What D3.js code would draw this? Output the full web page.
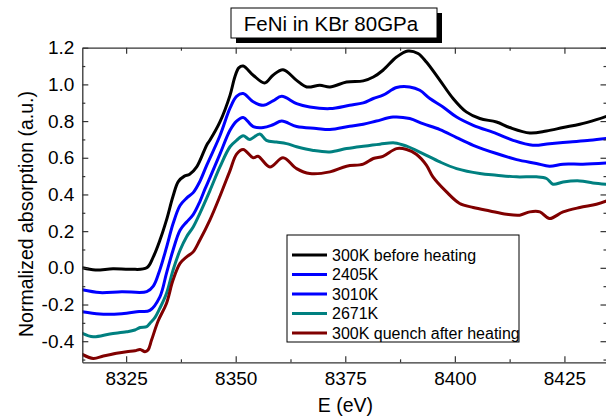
<!DOCTYPE html>
<html>
<head>
<meta charset="utf-8">
<script src="https://cdn.jsdelivr.net/npm/d3@7"></script>
<style>
  html, body { margin: 0; padding: 0; background: #fff; }
  svg { display: block; font-family: "Liberation Sans", Arial, sans-serif; }
</style>
</head>
<body>
<svg id="chart" width="606" height="419"></svg>
<script>
// ---------------- data ----------------
const titleText = "FeNi in KBr 80GPa";
const xLabel = "E (eV)";
const yLabel = "Normalized absorption (a.u.)";

const seriesNames = ["300K before heating", "2405K", "3010K", "2671K", "300K quench after heating"];
const seriesColors = ["#000000", "#0000ff", "#0000ff", "#008080", "#800000"];

const xTicks = [8325, 8350, 8375, 8400, 8425];
const xMinorTicks = [8337.5, 8362.5, 8387.5, 8412.5];
const yTicks = [-0.4, -0.2, 0.0, 0.2, 0.4, 0.6, 0.8, 1.0, 1.2];
const yTickLabels = ["-0.4", "-0.2", "0.0", "0.2", "0.4", "0.6", "0.8", "1.0", "1.2"];
const yMinorTicks = [-0.5, -0.3, -0.1, 0.1, 0.3, 0.5, 0.7, 0.9, 1.1];

// 300K before heating
const eBlack = [8315, 8318, 8322, 8326, 8329.7, 8331.2, 8332.7, 8334.2, 8335.7, 8336.9, 8338.3, 8339.5, 8341.1, 8343.4, 8344.1, 8346.4, 8348.7, 8349.8, 8350.7, 8351.7, 8354, 8356.6, 8358.5, 8360.8, 8363.9, 8366.2, 8369.2, 8371.5, 8375.3, 8379.1, 8381.4, 8383.6, 8386.7, 8389.3, 8391.6, 8393.5, 8396.6, 8399.6, 8402.6, 8405.7, 8409.5, 8412.5, 8417.1, 8420.9, 8424.7, 8428.5, 8432.3, 8434.6];
const vBlack = [0.0, -0.012, -0.005, -0.008, 0.0, 0.06, 0.15, 0.26, 0.39, 0.47, 0.50, 0.51, 0.55, 0.67, 0.695, 0.795, 0.94, 1.04, 1.09, 1.10, 1.05, 1.008, 1.05, 1.08, 1.022, 0.986, 0.995, 0.986, 1.013, 1.019, 1.04, 1.077, 1.149, 1.182, 1.168, 1.122, 1.022, 0.923, 0.85, 0.814, 0.795, 0.765, 0.735, 0.746, 0.765, 0.783, 0.808, 0.826];

// 2405K
const eBlue1 = [8315, 8319, 8324, 8329.7, 8331.2, 8332.7, 8334.2, 8335.7, 8337.3, 8338.8, 8340.3, 8341.8, 8343.4, 8346.4, 8348.7, 8350.2, 8351.7, 8354, 8356.3, 8358.5, 8360.5, 8363.9, 8366.9, 8371.5, 8376, 8379.1, 8381.4, 8383.6, 8386.7, 8389.7, 8392, 8394.3, 8397.3, 8400.4, 8404.2, 8409.5, 8413.3, 8417.8, 8421.6, 8426.2, 8430.8, 8434.6];
const vBlue1 = [-0.12, -0.135, -0.13, -0.13, -0.10, -0.01, 0.11, 0.24, 0.34, 0.38, 0.41, 0.47, 0.56, 0.72, 0.87, 0.935, 0.95, 0.905, 0.886, 0.91, 0.935, 0.895, 0.877, 0.868, 0.886, 0.899, 0.923, 0.941, 0.983, 0.986, 0.968, 0.923, 0.877, 0.822, 0.777, 0.732, 0.695, 0.668, 0.677, 0.686, 0.695, 0.705];

// 3010K
const eBlue2 = [8315, 8319, 8324, 8328, 8330.4, 8332.7, 8334.2, 8335.7, 8337.3, 8338.8, 8340.3, 8341.8, 8343, 8344.1, 8346.4, 8348.7, 8350.2, 8351.7, 8354, 8356.3, 8358.5, 8360.5, 8363.9, 8368.4, 8371.5, 8376, 8379.1, 8382.1, 8385.9, 8389.7, 8392.7, 8396.6, 8400.4, 8404.2, 8409.5, 8414.1, 8418.6, 8421.6, 8424.7, 8429.2, 8434.6];
const vBlue2 = [-0.24, -0.252, -0.25, -0.238, -0.232, -0.158, -0.03, 0.096, 0.205, 0.25, 0.29, 0.36, 0.43, 0.49, 0.62, 0.75, 0.80, 0.82, 0.77, 0.765, 0.78, 0.80, 0.77, 0.76, 0.754, 0.772, 0.783, 0.80, 0.822, 0.814, 0.786, 0.754, 0.71, 0.668, 0.623, 0.59, 0.569, 0.554, 0.565, 0.565, 0.572];

// 2671K
const eTeal = [8315, 8317.5, 8321.3, 8325.1, 8327, 8328.2, 8329.7, 8330.4, 8331.6, 8332.7, 8334.2, 8335.7, 8337.3, 8338.8, 8340.3, 8341.8, 8344.1, 8346.4, 8348.7, 8350.2, 8351.7, 8353.2, 8355.5, 8357, 8359.3, 8361.6, 8363.9, 8367.7, 8371.5, 8375.3, 8379.1, 8382.9, 8386.3, 8389, 8392.7, 8396.6, 8400.4, 8405.7, 8409.5, 8414.1, 8418.6, 8420.9, 8422.4, 8424.7, 8428.5, 8431.5, 8434.6];
const vTeal = [-0.357, -0.376, -0.361, -0.349, -0.339, -0.325, -0.321, -0.303, -0.27, -0.22, -0.14, -0.013, 0.096, 0.17, 0.223, 0.296, 0.42, 0.55, 0.66, 0.695, 0.72, 0.70, 0.73, 0.695, 0.686, 0.677, 0.66, 0.64, 0.632, 0.65, 0.663, 0.674, 0.681, 0.663, 0.623, 0.577, 0.541, 0.514, 0.505, 0.496, 0.496, 0.487, 0.456, 0.468, 0.474, 0.463, 0.456];

// 300K quench after heating
const eRed = [8315, 8317.5, 8319.8, 8322.8, 8325.1, 8327, 8328.2, 8329.3, 8330, 8330.8, 8332.3, 8334.2, 8335.7, 8337.3, 8338.8, 8340.3, 8341.8, 8344.1, 8346.4, 8348.7, 8350.2, 8351.7, 8354, 8355.1, 8357.8, 8360.8, 8363.9, 8366.9, 8371.5, 8375.3, 8379.1, 8381.4, 8383.6, 8386.7, 8389, 8391.2, 8393.5, 8395, 8398.1, 8401.1, 8404.2, 8408, 8411.8, 8414.8, 8417.1, 8419.4, 8421.6, 8424.7, 8428.5, 8432.3, 8434.6];
const vRed = [-0.472, -0.494, -0.481, -0.466, -0.457, -0.452, -0.445, -0.457, -0.448, -0.394, -0.29, -0.194, -0.067, 0.024, 0.06, 0.087, 0.15, 0.26, 0.39, 0.53, 0.62, 0.645, 0.60, 0.608, 0.55, 0.60, 0.541, 0.514, 0.523, 0.554, 0.565, 0.596, 0.608, 0.65, 0.645, 0.619, 0.56, 0.496, 0.414, 0.351, 0.329, 0.31, 0.292, 0.287, 0.305, 0.305, 0.269, 0.305, 0.329, 0.347, 0.365];

const seriesE = [eBlack, eBlue1, eBlue2, eTeal, eRed];
const seriesV = [vBlack, vBlue1, vBlue2, vTeal, vRed];

// ---------------- layout ----------------
const svg = d3.select("#chart");
const plot = { left: 82.3, right: 606.5, top: 47.7, bottom: 362.3 };
const fontTick = 19;

const x = d3.scaleLinear().domain([8315, 8434.6]).range([plot.left, plot.right]);
const y = d3.scaleLinear().domain([-0.515, 1.2]).range([plot.bottom, plot.top]);

// clip
svg.append("defs").append("clipPath").attr("id", "clip")
  .append("rect").attr("x", plot.left).attr("y", plot.top)
  .attr("width", plot.right - plot.left).attr("height", plot.bottom - plot.top);

// curves
const line = d3.line()
  .x(d => x(d[0])).y(d => y(d[1]))
  .curve(d3.curveCatmullRom.alpha(0.5));

const curves = svg.append("g").attr("clip-path", "url(#clip)");
seriesE.forEach((es, i) => {
  const pts = es.map((e, k) => [e, seriesV[i][k]]);
  curves.append("path")
    .datum(pts)
    .attr("d", line)
    .attr("fill", "none")
    .attr("stroke", seriesColors[i])
    .attr("stroke-width", 3)
    .attr("stroke-linejoin", "round")
    .attr("stroke-linecap", "round");
});

// axes
const axisColor = "#333";
function styleAxis(g) {
  g.selectAll("path.domain").attr("stroke", axisColor).attr("stroke-width", 1.3);
  g.selectAll(".tick line").attr("stroke", axisColor).attr("stroke-width", 1.2);
  g.selectAll("text").attr("fill", "#000").style("font-size", fontTick + "px")
    .style("font-family", '"Liberation Sans", Arial, sans-serif');
}

// bottom
const gB = svg.append("g").attr("transform", `translate(0,${plot.bottom})`)
  .call(d3.axisBottom(x).tickValues(xTicks).tickFormat(d3.format("d"))
    .tickSizeInner(-6).tickSizeOuter(0).tickPadding(9.5));
styleAxis(gB);
const gBm = svg.append("g").attr("transform", `translate(0,${plot.bottom})`)
  .call(d3.axisBottom(x).tickValues(xMinorTicks).tickFormat("")
    .tickSizeInner(-3).tickSizeOuter(0));
styleAxis(gBm); gBm.select("path.domain").remove();

// top
const gT = svg.append("g").attr("transform", `translate(0,${plot.top})`)
  .call(d3.axisTop(x).tickValues(xTicks).tickFormat("").tickSizeInner(-6).tickSizeOuter(0));
styleAxis(gT);
const gTm = svg.append("g").attr("transform", `translate(0,${plot.top})`)
  .call(d3.axisTop(x).tickValues(xMinorTicks).tickFormat("").tickSizeInner(-3).tickSizeOuter(0));
styleAxis(gTm); gTm.select("path.domain").remove();

// left
const gL = svg.append("g").attr("transform", `translate(${plot.left},0)`)
  .call(d3.axisLeft(y).tickValues(yTicks)
    .tickFormat((d, i) => yTickLabels[i])
    .tickSizeInner(-6).tickSizeOuter(0).tickPadding(8));
styleAxis(gL);
const gLm = svg.append("g").attr("transform", `translate(${plot.left},0)`)
  .call(d3.axisLeft(y).tickValues(yMinorTicks).tickFormat("").tickSizeInner(-3).tickSizeOuter(0));
styleAxis(gLm); gLm.select("path.domain").remove();

// right
const gR = svg.append("g").attr("transform", `translate(${plot.right},0)`)
  .call(d3.axisRight(y).tickValues(yTicks).tickFormat("").tickSizeInner(-6).tickSizeOuter(0));
styleAxis(gR);
const gRm = svg.append("g").attr("transform", `translate(${plot.right},0)`)
  .call(d3.axisRight(y).tickValues(yMinorTicks).tickFormat("").tickSizeInner(-3).tickSizeOuter(0));
styleAxis(gRm); gRm.select("path.domain").remove();

// axis titles
svg.append("text")
  .attr("x", (plot.left + plot.right) / 2 + 1)
  .attr("y", 412)
  .attr("text-anchor", "middle")
  .style("font-size", "19.5px")
  .text(xLabel);

svg.append("text")
  .attr("transform", `translate(33,${214}) rotate(-90)`)
  .attr("text-anchor", "middle")
  .style("font-size", "19.5px")
  .text(yLabel);

// title box with shadow
const tb = { x: 231, y: 8, w: 206, h: 30, off: 5 };
svg.append("rect").attr("x", tb.x + tb.off).attr("y", tb.y + tb.off)
  .attr("width", tb.w).attr("height", tb.h).attr("fill", "#000");
svg.append("rect").attr("x", tb.x).attr("y", tb.y)
  .attr("width", tb.w).attr("height", tb.h)
  .attr("fill", "#fff").attr("stroke", "#000").attr("stroke-width", 1);
svg.append("text")
  .attr("x", tb.x + tb.w / 2 - 3)
  .attr("y", tb.y + 23)
  .attr("text-anchor", "middle")
  .style("font-size", "20.5px")
  .text(titleText);

// legend
const lg = { x: 287, y: 235, w: 232, h: 107 };
const legend = svg.append("g");
legend.append("rect").attr("x", lg.x).attr("y", lg.y).attr("width", lg.w).attr("height", lg.h)
  .attr("fill", "#fff").attr("stroke", "#000").attr("stroke-width", 1);
const rowY = d3.scalePoint().domain(seriesNames).range([lg.y + 20, lg.y + 98]);
seriesNames.forEach((name, i) => {
  const yy = rowY(name);
  legend.append("line")
    .attr("x1", lg.x + 5).attr("x2", lg.x + 40)
    .attr("y1", yy).attr("y2", yy)
    .attr("stroke", seriesColors[i]).attr("stroke-width", 3);
  legend.append("text")
    .attr("x", lg.x + 45).attr("y", yy + 5.8)
    .style("font-size", "16px")
    .text(name);
});
</script>
</body>
</html>
